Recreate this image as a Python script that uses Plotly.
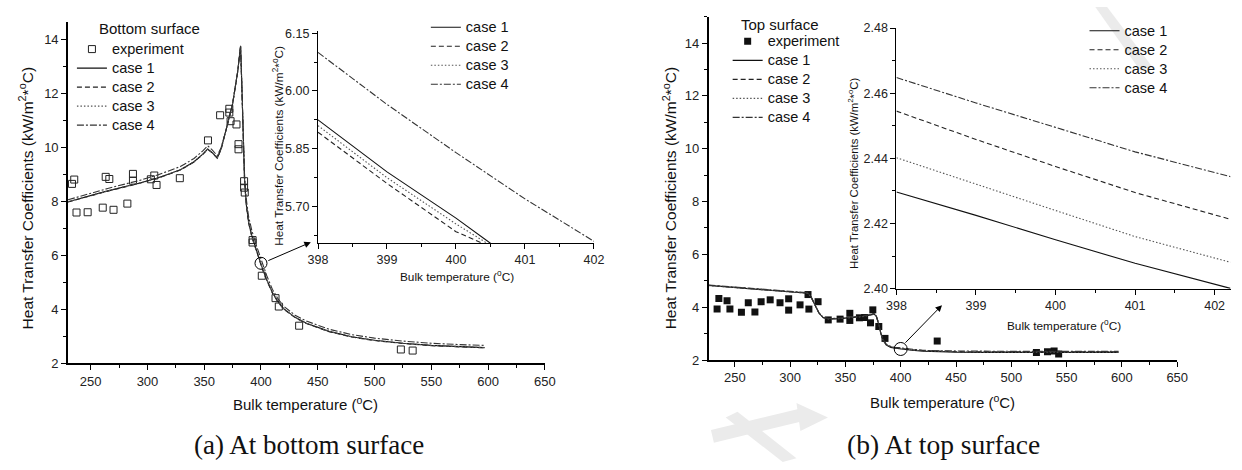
import plotly.graph_objects as go

W, H = 1242, 470
FONT = "Liberation Sans, Arial, sans-serif"
SERIF = "Liberation Serif, Times New Roman, serif"

# ---------------- (a) bottom surface ----------------
exp_a_T = [233.5, 235.5, 237.5, 247.3, 260.6, 263.2, 266.4, 270.1, 282.3, 287.2, 287.2,
           303.0, 306.0, 308.0, 328.5, 353.3, 364.0, 372.1, 372.1, 373.2, 378.4, 380.2,
           380.2, 385.1, 385.1, 385.7, 392.6, 392.6, 400.7, 412.8, 415.7, 433.6, 523.2, 533.6]
exp_a_h = [8.64, 8.80, 7.58, 7.59, 7.76, 8.90, 8.82, 7.68, 7.91, 9.01, 8.76,
           8.81, 8.95, 8.60, 8.85, 10.25, 11.18, 11.42, 11.28, 10.96, 10.84, 10.11,
           9.92, 8.74, 8.50, 8.32, 6.56, 6.47, 5.24, 4.41, 4.10, 3.39, 2.51, 2.47]

T_a = [230, 265, 294, 309, 329, 341, 349, 353, 357, 361.5, 365, 369.5, 375, 379.5, 382, 383,
       384, 385.5, 387, 389, 392, 396, 398, 400, 402, 405, 410, 415, 420, 430, 440, 460,
       480, 500, 525, 550, 575, 597]
a_case1 = [7.98, 8.38, 8.68, 8.86, 9.16, 9.46, 9.75, 9.93, 9.80, 9.60, 9.95, 10.65, 11.60,
           12.80, 13.75, 12.50, 10.80, 8.80, 7.90, 7.25, 6.70, 6.15, 5.925, 5.67, 5.42, 5.10,
           4.62, 4.28, 4.02, 3.70, 3.48, 3.18, 2.98, 2.85, 2.74, 2.66, 2.61, 2.58]
a_case2 = [7.97, 8.37, 8.67, 8.85, 9.15, 9.45, 9.74, 9.92, 9.79, 9.59, 9.94, 10.64, 11.59,
           12.79, 13.74, 12.45, 10.75, 8.76, 7.86, 7.21, 6.66, 6.12, 5.893, 5.635, 5.39, 5.07,
           4.60, 4.26, 4.00, 3.69, 3.47, 3.17, 2.97, 2.84, 2.73, 2.65, 2.60, 2.57]
a_case3 = [7.98, 8.38, 8.68, 8.86, 9.16, 9.46, 9.75, 9.93, 9.80, 9.60, 9.95, 10.65, 11.60,
           12.80, 13.75, 12.48, 10.78, 8.78, 7.88, 7.23, 6.68, 6.13, 5.91, 5.655, 5.40, 5.09,
           4.61, 4.27, 4.01, 3.70, 3.48, 3.18, 2.98, 2.85, 2.74, 2.66, 2.61, 2.58]
a_case4 = [8.05, 8.47, 8.78, 8.97, 9.28, 9.58, 9.87, 10.05, 9.90, 9.68, 10.00, 10.68, 11.62,
           12.82, 13.72, 12.60, 11.00, 9.00, 8.10, 7.45, 6.90, 6.35, 6.10, 5.84, 5.61, 5.25,
           4.74, 4.38, 4.11, 3.78, 3.56, 3.26, 3.06, 2.93, 2.82, 2.74, 2.69, 2.66]

# zoomed window 398-402 C
za_T1, za_h1 = [398, 399, 400, 400.5], [5.925, 5.79, 5.67, 5.605]
za_T2, za_h2 = [398, 399, 400, 400.38], [5.893, 5.76, 5.635, 5.605]
za_T3, za_h3 = [398, 399, 400, 400.45], [5.91, 5.775, 5.655, 5.605]
za_T4, za_h4 = [398, 399, 400, 401, 402], [6.10, 5.965, 5.84, 5.72, 5.61]

# ---------------- (b) top surface ----------------
exp_b_T = [234.0, 235.6, 243.0, 245.6, 256.0, 262.2, 268.2, 273.8, 282.0, 290.9, 298.7,
           298.7, 309.0, 316.2, 317.0, 325.3, 334.5, 345.2, 354.0, 354.0, 362.7, 367.4,
           372.7, 374.8, 380.2, 385.8, 433.0, 522.7, 532.7, 538.7, 542.8]
exp_b_h = [3.93, 4.33, 4.25, 3.93, 3.81, 4.17, 3.82, 4.21, 4.28, 4.17, 4.32,
           3.89, 4.09, 4.48, 3.93, 4.21, 3.52, 3.55, 3.77, 3.50, 3.60, 3.61,
           3.41, 3.90, 3.27, 2.82, 2.72, 2.29, 2.31, 2.34, 2.23]

T_b = [226.4, 250, 280, 300, 316, 319, 322, 326, 330, 335, 345, 355, 365, 372, 376, 378,
       380, 382, 384, 387, 391, 395, 398, 402, 410, 420, 435, 450, 475, 500, 550, 597]
b_case1 = [4.82, 4.75, 4.66, 4.59, 4.53, 4.38, 4.12, 3.78, 3.60, 3.55, 3.57, 3.60, 3.64, 3.70,
           3.74, 3.65, 3.38, 3.00, 2.75, 2.57, 2.48, 2.45, 2.43, 2.40, 2.37, 2.34, 2.31, 2.30,
           2.29, 2.29, 2.29, 2.29]
b_case2 = [4.83, 4.76, 4.67, 4.60, 4.54, 4.39, 4.13, 3.79, 3.61, 3.56, 3.58, 3.61, 3.65, 3.71,
           3.75, 3.66, 3.39, 3.02, 2.77, 2.59, 2.50, 2.47, 2.455, 2.42, 2.39, 2.36, 2.33, 2.32,
           2.31, 2.31, 2.31, 2.31]
b_case3 = [4.82, 4.75, 4.66, 4.59, 4.53, 4.38, 4.12, 3.78, 3.60, 3.55, 3.57, 3.60, 3.64, 3.70,
           3.74, 3.65, 3.38, 3.01, 2.76, 2.58, 2.49, 2.46, 2.44, 2.41, 2.38, 2.35, 2.32, 2.31,
           2.30, 2.30, 2.30, 2.30]
b_case4 = [4.84, 4.77, 4.68, 4.61, 4.55, 4.40, 4.14, 3.80, 3.62, 3.57, 3.59, 3.62, 3.66, 3.72,
           3.76, 3.67, 3.40, 3.03, 2.78, 2.60, 2.51, 2.48, 2.465, 2.435, 2.40, 2.37, 2.35, 2.34,
           2.33, 2.33, 2.33, 2.33]

zb_T = [398, 399, 400, 401, 402.2]
zb_h1 = [2.4297, 2.4225, 2.4150, 2.4078, 2.4001]
zb_h2 = [2.4545, 2.4458, 2.4375, 2.4295, 2.4213]
zb_h3 = [2.4402, 2.4320, 2.4240, 2.4160, 2.4081]
zb_h4 = [2.4648, 2.4570, 2.4495, 2.4420, 2.4344]

case_names = ["case 1", "case 2", "case 3", "case 4"]
case_dash = ["solid", "5px,3px", "1.5px,2px", "7px,2px,2px,2px"]
case_color = ["#111111", "#222222", "#555555", "#333333"]


def px_x(p):
    return p / W


def px_y(p):
    return 1 - p / H


def big(name):
    # legend rows stay compact while the label itself is drawn larger
    return '<span style="font-size:14.5px">%s</span>' % name


fig = go.Figure()

# main (a)
fig.add_trace(go.Scatter(x=exp_a_T, y=exp_a_h, mode="markers", name=big("experiment"),
                         marker=dict(symbol="square-open", size=7, color="#222",
                                     line=dict(width=1)),
                         xaxis="x", yaxis="y", legend="legend"))
for i, ys in enumerate([a_case1, a_case2, a_case3, a_case4]):
    fig.add_trace(go.Scatter(x=T_a, y=ys, mode="lines", name=big(case_names[i]),
                             line=dict(color=case_color[i], width=1.1, dash=case_dash[i]),
                             xaxis="x", yaxis="y", legend="legend"))
# inset (a)
for i, (xs, ys) in enumerate([(za_T1, za_h1), (za_T2, za_h2), (za_T3, za_h3), (za_T4, za_h4)]):
    fig.add_trace(go.Scatter(x=xs, y=ys, mode="lines", name=big(case_names[i]),
                             line=dict(color=case_color[i], width=1.1, dash=case_dash[i]),
                             xaxis="x2", yaxis="y2", legend="legend2"))
# main (b)
fig.add_trace(go.Scatter(x=exp_b_T, y=exp_b_h, mode="markers", name=big("experiment"),
                         marker=dict(symbol="square", size=7, color="#111"),
                         xaxis="x3", yaxis="y3", legend="legend3"))
for i, ys in enumerate([b_case1, b_case2, b_case3, b_case4]):
    fig.add_trace(go.Scatter(x=T_b, y=ys, mode="lines", name=big(case_names[i]),
                             line=dict(color=case_color[i], width=1.1, dash=case_dash[i]),
                             xaxis="x3", yaxis="y3", legend="legend3"))
# inset (b)
for i, ys in enumerate([zb_h1, zb_h2, zb_h3, zb_h4]):
    fig.add_trace(go.Scatter(x=zb_T, y=ys, mode="lines", name=big(case_names[i]),
                             line=dict(color=case_color[i], width=1.1, dash=case_dash[i]),
                             xaxis="x4", yaxis="y4", legend="legend4"))


def axis(domain, rng, dtick, minor_dtick, anchor, lw=1.6, tickfont=13, fmt=None, tick0=None):
    d = dict(domain=domain, range=rng, dtick=dtick, anchor=anchor, showgrid=False,
             zeroline=False, showline=True, linecolor="black", linewidth=lw,
             ticks="outside", ticklen=5, tickwidth=lw * 0.8, tickcolor="black",
             tickfont=dict(family=FONT, size=tickfont, color="#222"),
             minor=dict(ticks="outside", ticklen=3, dtick=minor_dtick, tickcolor="black",
                        tickwidth=lw * 0.7),
             mirror=False)
    if fmt:
        d["tickformat"] = fmt
    if tick0 is not None:
        d["tick0"] = tick0
    return d


leg = dict(bgcolor="rgba(0,0,0,0)", borderwidth=0, font=dict(family=FONT, size=12.3, color="#111"),
           xanchor="left", yanchor="top", tracegroupgap=0, itemwidth=30, traceorder="normal")

fig.update_layout(
    width=W, height=H, margin=dict(l=0, r=0, t=0, b=0),
    paper_bgcolor="white", plot_bgcolor="rgba(0,0,0,0)",
    xaxis=axis([px_x(59), px_x(544)], [230, 650], 50, 25, "y"),
    yaxis=axis([px_y(368), px_y(15)], [2, 14.65], 2, 1, "x"),
    xaxis2=axis([px_x(313.3), px_x(594)], [398, 402], 1, 0.5, "y2", lw=1.1, tickfont=12.5),
    yaxis2=axis([px_y(244), px_y(25)], [5.605, 6.155], 0.15, 0.075, "x2", lw=1.1,
                tickfont=12.5, fmt=".2f", tick0=5.7),
    xaxis3=axis([px_x(710.7), px_x(1187.3)], [226.4, 650], 50, 25, "y3"),
    yaxis3=axis([px_y(364.7), px_y(10)], [2, 15], 2, 1, "x3"),
    xaxis4=axis([px_x(901.7), px_x(1241.5)], [398, 402.2], 1, 0.5, "y4", lw=1.1, tickfont=12.5),
    yaxis4=axis([px_y(291), px_y(21.7)], [2.40, 2.48], 0.02, 0.01, "x4", lw=1.1,
                tickfont=12.5, fmt=".2f"),
    legend=dict(leg, x=px_x(63), y=px_y(28.5)),
    legend2=dict(leg, x=px_x(423), y=px_y(6)),
    legend3=dict(leg, x=px_x(730), y=px_y(20.5)),
    legend4=dict(leg, x=px_x(1093), y=px_y(9.5)),
    showlegend=True,
)

# faint background watermark strokes (pixel outlines)
watermark = [
    [(713, 437), (803, 415), (806, 428), (716, 450)],
    [(800, 409), (832, 424), (804, 438)],
    [(728, 424), (740, 418), (800, 466), (786, 470)],
    [(1104, 0), (1116, 0), (1162, 62), (1150, 66)],
]
for poly in watermark:
    path = "M " + " L ".join("%.5f %.5f" % (px_x(px), px_y(py)) for px, py in poly) + " Z"
    fig.add_shape(type="path", path=path, xref="paper", yref="paper", layer="below",
                  fillcolor="#ebebeb", line=dict(width=0))

ytitle = "Heat Transfer Coefficients (kW/m<sup>2</sup>*<sup>o</sup>C)"
xtitle = "Bulk temperature (<sup>o</sup>C)"
texts = [
    # (text, x px, y px, size, angle, family, xanchor)
    ("Bottom surface", 88, 22, 15, 0, FONT, "left"),
    ("Top surface", 742, 18, 15, 0, FONT, "left"),
    (ytitle, 16, 198, 15.5, -90, FONT, "center"),
    (ytitle, 671, 198, 15.5, -90, FONT, "center"),
    (xtitle, 301, 410, 15, 0, FONT, "center"),
    (xtitle, 949, 408, 15, 0, FONT, "center"),
    (ytitle, 273, 143, 11.8, -90, FONT, "center"),
    (ytitle, 857, 172, 11.3, -90, FONT, "center"),
    (xtitle, 455, 278, 11.8, 0, FONT, "center"),
    (xtitle, 1072, 329, 11.8, 0, FONT, "center"),
    ("(a) At bottom surface", 304, 452, 27, 0, SERIF, "center"),
    ("(b) At top surface", 950, 452, 27.5, 0, SERIF, "center"),
]
for t, x, y, s, ang, fam, xa in texts:
    fig.add_annotation(text=t, x=px_x(x), y=px_y(y), xref="paper", yref="paper",
                       showarrow=False, textangle=ang, xanchor=xa, yanchor="middle",
                       font=dict(family=fam, size=s, color="#111"))

# magnifier circles at 400 C and arrows to the zoomed windows
fig.add_shape(type="circle", xref="x", yref="y", xsizemode="pixel", ysizemode="pixel",
              xanchor=400, yanchor=5.7, x0=-6, x1=6, y0=-6, y1=6,
              line=dict(color="black", width=1))
fig.add_shape(type="circle", xref="x3", yref="y3", xsizemode="pixel", ysizemode="pixel",
              xanchor=400, yanchor=2.42, x0=-6.5, x1=6.5, y0=-6.5, y1=6.5,
              line=dict(color="black", width=1))
fig.add_annotation(x=px_x(306), y=px_y(243), xref="paper", yref="paper", ax=-44, ay=19,
                   showarrow=True, arrowhead=2, arrowsize=1.3, arrowwidth=1,
                   arrowcolor="black", text="", standoff=0, startstandoff=0)
fig.add_annotation(x=px_x(948), y=px_y(308), xref="paper", yref="paper", ax=-38, ay=39,
                   showarrow=True, arrowhead=2, arrowsize=1.3, arrowwidth=1,
                   arrowcolor="black", text="", standoff=0, startstandoff=0)

fig.write_html("out.html")
